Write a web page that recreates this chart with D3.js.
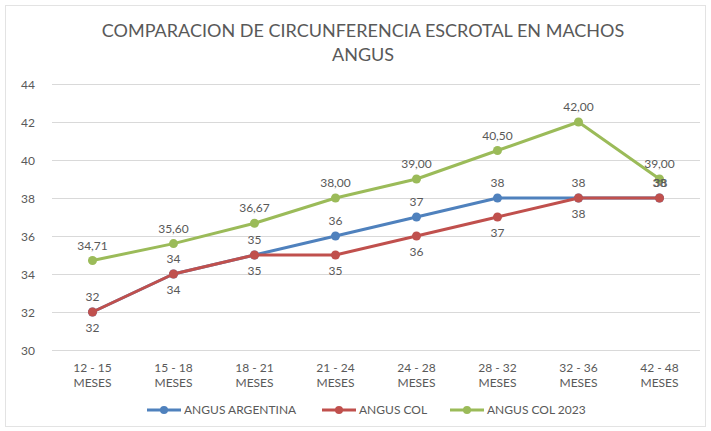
<!DOCTYPE html>
<html>
<head>
<meta charset="UTF-8">
<title>Circunferencia escrotal Angus</title>
<script src="https://d3js.org/d3.v7.min.js"></script>
<style>
  body { margin: 0; background: #fff; }
  text { font-family: Lato, "Open Sans", sans-serif; }
  .grid line { stroke: #d9d9d9; stroke-width: 1; }
  .lbl { fill: #595959; font-size: 12px; }
</style>
</head>
<body>
<div id="graphe"></div>
<script>
// categorias y series
var categorias = ["12 - 15 MESES", "15 - 18 MESES", "18 - 21 MESES", "21 - 24 MESES",
                  "24 - 28 MESES", "28 - 32 MESES", "32 - 36 MESES", "42 - 48 MESES"];
var argentina = [32, 34, 35, 36, 37, 38, 38, 38];
var col = [32, 34, 35, 35, 36, 37, 38, 38];
var col2023 = [34.71, 35.60, 36.67, 38.00, 39.00, 40.50, 42.00, 39.00];
var yTicks = [30, 32, 34, 36, 38, 40, 42, 44];

var width = 711, height = 431;
var margin = {top: 84, right: 11, bottom: 81, left: 52};

var series = [
  {name: "ANGUS ARGENTINA", values: argentina, color: "#4F81BD", fmt: d3.format(".0f"), pos: "above"},
  {name: "ANGUS COL", values: col, color: "#C0504D", fmt: d3.format(".0f"), pos: "below"},
  {name: "ANGUS COL 2023", values: col2023, color: "#9BBB59", fmt: function(v) { return v.toFixed(2).replace(".", ","); }, pos: "above"}
];

var svg = d3.select("#graphe").append("svg")
    .attr("width", width)
    .attr("height", height);

svg.append("rect")
    .attr("x", 5.5).attr("y", 5.5)
    .attr("width", width - 11).attr("height", height - 10)
    .attr("fill", "#fff")
    .attr("stroke", "#e3e3e3");

var x = d3.scaleBand()
    .domain(categorias)
    .range([margin.left, width - margin.right]);

var y = d3.scaleLinear()
    .domain([30, 44])
    .range([height - margin.bottom, margin.top]);

// titulo
var title = svg.append("text")
    .attr("text-anchor", "middle")
    .attr("fill", "#595959")
    .style("font-size", "18px");
title.append("tspan").attr("x", 363).attr("y", 37).text("COMPARACION DE CIRCUNFERENCIA ESCROTAL EN MACHOS");
title.append("tspan").attr("x", 363).attr("y", 61).text("ANGUS");

// grilla
svg.append("g").attr("class", "grid")
  .selectAll("line")
  .data(yTicks)
  .enter().append("line")
    .attr("x1", margin.left).attr("x2", width - margin.right)
    .attr("y1", function(d) { return Math.round(y(d)) + 0.5; })
    .attr("y2", function(d) { return Math.round(y(d)) + 0.5; });

// eje y
var yAxis = svg.append("g")
    .attr("transform", "translate(" + (margin.left - 17) + ",0)")
    .call(d3.axisLeft(y).tickValues(yTicks).tickSize(0).tickPadding(0));
yAxis.select(".domain").remove();
yAxis.selectAll("text").attr("class", "lbl").attr("dy", "0.35em").style("font-family", null).style("font-size", null).attr("fill", "#595959");

// eje x
var xAxis = svg.append("g")
    .attr("transform", "translate(0," + (height - margin.bottom) + ")")
    .call(d3.axisBottom(x).tickSize(0).tickPadding(0).tickFormat(""));
xAxis.select(".domain").remove();
xAxis.selectAll(".tick").each(function(d) {
  var parts = d.split(" MESES");
  var t = d3.select(this).append("text")
      .attr("class", "lbl")
      .attr("text-anchor", "middle");
  t.append("tspan").attr("x", 0).attr("y", 22).text(parts[0]);
  t.append("tspan").attr("x", 0).attr("y", 37).text("MESES");
});

var line = d3.line()
    .x(function(d, i) { return x(categorias[i]) + x.bandwidth() / 2; })
    .y(function(d) { return y(d); });

series.forEach(function(s) {
  var g = svg.append("g");
  g.append("path")
      .datum(s.values)
      .attr("fill", "none")
      .attr("stroke", s.color)
      .attr("stroke-width", 3)
      .attr("stroke-linejoin", "round")
      .attr("d", line);
  g.selectAll("circle")
    .data(s.values)
    .enter().append("circle")
      .attr("cx", function(d, i) { return x(categorias[i]) + x.bandwidth() / 2; })
      .attr("cy", function(d) { return y(d); })
      .attr("r", 4.5)
      .attr("fill", s.color);
});

// etiquetas de datos
series.forEach(function(s) {
  svg.append("g").selectAll("text")
    .data(s.values)
    .enter().append("text")
      .attr("class", "lbl")
      .attr("text-anchor", "middle")
      .attr("x", function(d, i) { return x(categorias[i]) + x.bandwidth() / 2 + (s.pos === "below" && i === categorias.length - 1 ? 1 : 0); })
      .attr("y", function(d, i) {
        var below = s.pos === "below" && i < categorias.length - 1;
        return below ? y(d) + 20 : y(d) - 11;
      })
      .text(function(d) { return s.fmt(d); });
});

// leyenda
var legend = svg.append("g")
    .attr("transform", "translate(147," + 410 + ")");
var lx = [0, 175, 303];
series.forEach(function(s, i) {
  var g = legend.append("g").attr("transform", "translate(" + lx[i] + ",0)");
  g.append("line").attr("x1", 0).attr("x2", 34).attr("y1", 0).attr("y2", 0)
    .attr("stroke", s.color).attr("stroke-width", 3);
  g.append("circle").attr("cx", 17).attr("cy", 0).attr("r", 4).attr("fill", s.color);
  g.append("text").attr("class", "lbl").attr("x", 37).attr("y", 0).attr("dy", "0.35em").text(s.name);
});
</script>
</body>
</html>
